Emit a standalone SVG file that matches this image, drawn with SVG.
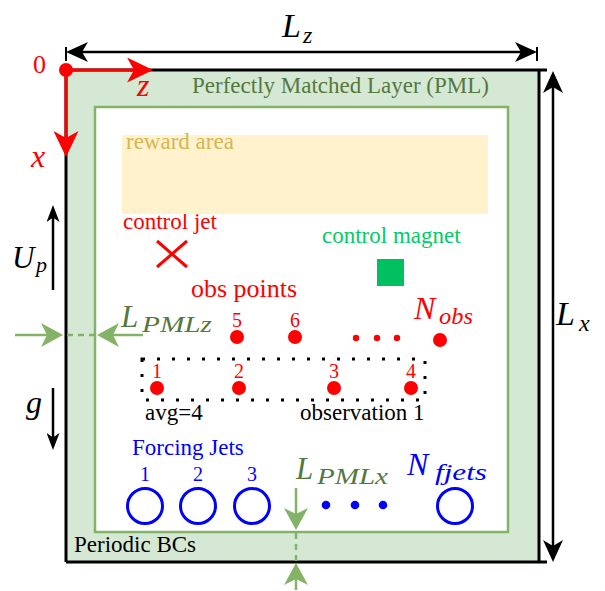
<svg xmlns="http://www.w3.org/2000/svg" width="605" height="591" viewBox="0 0 605 591" font-family="'Liberation Serif', 'DejaVu Serif', serif">
<style>
  text { font-family: 'Liberation Serif', 'DejaVu Serif', serif; }
  .t { font-size: 23px; }
  .it { font-style: italic; }
  .red { fill: #ff0000; }
  .blue { fill: #0000ff; }
  .grn { fill: #55783f; }
  .blk { fill: #000000; }
  .num { font-size: 20px; text-anchor: middle; }
  .bline { stroke: #000; stroke-width: 3; fill: none; }
  .gline { stroke: #82b366; stroke-width: 2.5; fill: none; }
  .rline { stroke: #ff0000; stroke-width: 3; fill: none; }
  .jet { fill: none; stroke: #0000ff; stroke-width: 3; }
</style>
<defs>
  <marker id="mBlack" markerUnits="userSpaceOnUse" viewBox="0 0 22 20" markerWidth="22" markerHeight="20" refX="16" refY="10" orient="auto-start-reverse">
    <path d="M0,0 L22,10 L0,20 L6,10 Z" fill="#000"/>
  </marker>
  <marker id="mSmall" markerUnits="userSpaceOnUse" viewBox="0 0 17 13" markerWidth="17" markerHeight="13" refX="12" refY="6.5" orient="auto-start-reverse">
    <path d="M0,0 L17,6.5 L0,13 L4.5,6.5 Z" fill="#000"/>
  </marker>
  <marker id="mRed" markerUnits="userSpaceOnUse" viewBox="0 0 26 25" markerWidth="26" markerHeight="25" refX="20" refY="12.5" orient="auto-start-reverse">
    <path d="M0,0 L26,12.5 L0,25 L7,12.5 Z" fill="#ff0000"/>
  </marker>
  <marker id="mGreen" markerUnits="userSpaceOnUse" viewBox="0 0 22 24" markerWidth="22" markerHeight="24" refX="16" refY="12" orient="auto-start-reverse">
    <path d="M0,0 L22,12 L0,24 L6,12 Z" fill="#82b366"/>
  </marker>
</defs>
<rect width="605" height="591" fill="#ffffff"/>

<g id="domain">
  <rect x="66" y="70" width="473" height="492" fill="#d5e8d4"/>
  <line class="bline" x1="66" y1="70" x2="547" y2="70"/>
  <line class="bline" x1="66" y1="562" x2="547" y2="562"/>
  <line class="bline" x1="66" y1="70" x2="66" y2="562"/>
  <line class="bline" x1="539" y1="70" x2="539" y2="562"/>
  <text class="t grn" x="192" y="93">Perfectly Matched Layer (PML)</text>
  <text class="t blk" x="74" y="552">Periodic BCs</text>
</g>

<g id="inner-domain">
  <rect x="95" y="107" width="413" height="425" fill="#ffffff" stroke="#82b366" stroke-width="2.5"/>
</g>

<g id="control-jet">
  <text class="t red" x="123" y="229">control jet</text>
  <line x1="157" y1="241" x2="187" y2="267" stroke="#ff0000" stroke-width="3"/>
  <line x1="187" y1="241" x2="157" y2="267" stroke="#ff0000" stroke-width="3"/>
</g>

<g id="reward-area">
  <rect x="122" y="135" width="366" height="79" fill="#fff2cc"/>
  <text class="t" x="126" y="149" fill="#d6b656">reward area</text>
</g>

<g id="control-magnet">
  <text class="t" x="322" y="243" fill="#00cc66">control magnet</text>
  <rect x="377" y="259" width="27" height="27" fill="#00c060"/>
</g>

<g id="obs-points">
  <text class="red" x="191" y="297" font-size="26">obs points</text>
  <circle cx="237" cy="337" r="7" fill="#ff0000"/>
  <circle cx="295" cy="337" r="7" fill="#ff0000"/>
  <circle cx="356" cy="338" r="3.2" fill="#ff0000"/>
  <circle cx="377" cy="338" r="3.2" fill="#ff0000"/>
  <circle cx="397" cy="338" r="3.2" fill="#ff0000"/>
  <circle cx="440" cy="340" r="7" fill="#ff0000"/>
  <text class="num red" x="237" y="327">5</text>
  <text class="num red" x="295" y="327">6</text>
  <text class="red it" x="414" y="319" font-size="32">N</text>
  <text class="red it" x="439" y="324" font-size="24" textLength="34" lengthAdjust="spacingAndGlyphs">obs</text>
</g>

<g id="observation-1">
  <rect x="142" y="359" width="283" height="41" fill="none" stroke="#000" stroke-width="3" stroke-dasharray="3 12"/>
  <circle cx="157" cy="388" r="7" fill="#ff0000"/>
  <circle cx="239" cy="388" r="7" fill="#ff0000"/>
  <circle cx="334" cy="388" r="7" fill="#ff0000"/>
  <circle cx="411" cy="388" r="7" fill="#ff0000"/>
  <text class="num red" x="157" y="378">1</text>
  <text class="num red" x="239" y="378">2</text>
  <text class="num red" x="334" y="378">3</text>
  <text class="num red" x="411" y="378">4</text>
  <text class="t blk" x="145" y="420">avg=4</text>
  <text class="t blk" x="300" y="420">observation 1</text>
</g>

<g id="forcing-jets">
  <text class="t blue" x="132" y="455">Forcing Jets</text>
  <text class="num blue" x="145" y="481">1</text>
  <text class="num blue" x="198" y="481">2</text>
  <text class="num blue" x="252" y="481">3</text>
  <circle class="jet" cx="145" cy="506" r="17.5"/>
  <circle class="jet" cx="198" cy="506" r="17.5"/>
  <circle class="jet" cx="252" cy="506" r="17.5"/>
  <circle cx="326" cy="505" r="4.3" fill="#0000ff"/>
  <circle cx="355" cy="505" r="4.3" fill="#0000ff"/>
  <circle cx="383" cy="505" r="4.3" fill="#0000ff"/>
  <circle class="jet" cx="455" cy="506" r="17.5"/>
  <text class="blue it" x="407" y="475" font-size="32">N</text>
  <text class="blue it" x="435" y="480" font-size="24" textLength="52" lengthAdjust="spacingAndGlyphs">fjets</text>
</g>

<g id="origin">
  <text class="red" x="33" y="73" font-size="26">0</text>
  <text class="red it" x="137" y="96" font-size="32">z</text>
  <text class="red it" x="31" y="167" font-size="32">x</text>
</g>

<g id="labels">
  <text class="blk it" x="282" y="37" font-size="34">L</text>
  <text class="blk it" x="303" y="43" font-size="24">z</text>
  <text class="blk it" x="556" y="325" font-size="34">L</text>
  <text class="blk it" x="579" y="331" font-size="24">x</text>
  <text class="blk it" x="12" y="268" font-size="31">U</text>
  <text class="blk it" x="36" y="272" font-size="22">p</text>
  <text class="blk it" x="26" y="413" font-size="32">g</text>
  <text class="grn it" x="121" y="327" font-size="31">L</text>
  <text class="grn it" x="142" y="332" font-size="24" textLength="70" lengthAdjust="spacingAndGlyphs">PMLz</text>
  <text class="grn it" x="296" y="479" font-size="31">L</text>
  <text class="grn it" x="317" y="484" font-size="24" textLength="71" lengthAdjust="spacingAndGlyphs">PMLx</text>
</g>

<g id="connectors">
  <line x1="66" y1="47" x2="66" y2="61" stroke="#000" stroke-width="2"/>
  <line x1="537" y1="47" x2="537" y2="61" stroke="#000" stroke-width="2"/>
  <line x1="72" y1="52" x2="531" y2="52" stroke="#000" stroke-width="2.5" marker-start="url(#mBlack)" marker-end="url(#mBlack)"/>
  <line x1="553" y1="77" x2="553" y2="556" stroke="#000" stroke-width="2.5" marker-start="url(#mBlack)" marker-end="url(#mBlack)"/>
  <line x1="53" y1="290" x2="53" y2="210" stroke="#000" stroke-width="2.5" marker-end="url(#mSmall)"/>
  <line x1="53" y1="388" x2="53" y2="445" stroke="#000" stroke-width="2.5" marker-end="url(#mSmall)"/>
  <line class="rline" x1="66" y1="70" x2="147" y2="70" marker-end="url(#mRed)"/>
  <line class="rline" x1="66" y1="70" x2="66" y2="151" marker-end="url(#mRed)"/>
  <circle cx="66" cy="70" r="7" fill="#ff0000"/>
  <line class="gline" x1="15" y1="335" x2="57" y2="335" marker-end="url(#mGreen)"/>
  <line class="gline" x1="143" y1="335" x2="103" y2="335" marker-end="url(#mGreen)"/>
  <line class="gline" x1="67" y1="335" x2="95" y2="335" stroke-dasharray="6 5"/>
  <line class="gline" x1="296" y1="488" x2="296" y2="524" marker-end="url(#mGreen)"/>
  <line class="gline" x1="296" y1="590" x2="296" y2="569" marker-end="url(#mGreen)"/>
  <line class="gline" x1="296" y1="533" x2="296" y2="561" stroke-dasharray="6 5"/>
</g>
</svg>
